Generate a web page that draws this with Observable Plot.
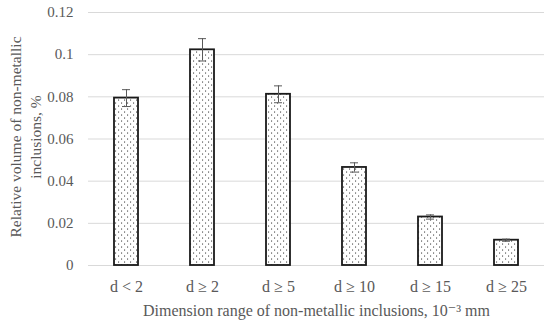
<!DOCTYPE html>
<html><head><meta charset="utf-8">
<script src="https://cdn.jsdelivr.net/npm/d3@7"></script>
<script src="https://cdn.jsdelivr.net/npm/@observablehq/plot@0.6"></script>
<style>
html,body{margin:0;padding:0;background:#fff;}
</style>
</head><body>
<div id="chart"></div>
<script>
const categories = ["d < 2", "d ≥ 2", "d ≥ 5", "d ≥ 10", "d ≥ 15", "d ≥ 25"];
const values = [0.0794, 0.1023, 0.0812, 0.0465, 0.0230, 0.0120];
const errors = [0.0040, 0.0053, 0.0040, 0.0022, 0.0010, 0.0005];
const yTicks = [0, 0.02, 0.04, 0.06, 0.08, 0.1, 0.12];
const yLabel = "Relative volume of non-metallic\ninclusions, %";
const xLabel = "Dimension range of non-metallic inclusions, 10\u207B\u00B3 mm";

const data = categories.map((c, i) => ({cat: c, v: values[i], e: errors[i]}));
const font = "'Liberation Serif', 'DejaVu Serif', serif";

const chart = Plot.plot({
  width: 550,
  height: 323,
  marginLeft: 88,
  marginRight: 6,
  marginTop: 12,
  marginBottom: 58,
  style: {fontFamily: font, fontSize: "15px", color: "#595959", background: "#fff"},
  x: {domain: categories, paddingInner: 0.68, paddingOuter: 0.34},
  y: {domain: [0, 0.12]},
  marks: [
    Plot.gridY(yTicks, {stroke: "#d9d9d9", strokeOpacity: 1, strokeWidth: 1}),
    Plot.axisY(yTicks, {tickSize: 0, tickPadding: 15, tickFormat: d => String(+d.toFixed(2)), label: null, fontSize: 15, fill: "#595959"}),
    Plot.axisX({tickSize: 0, tickPadding: 15, label: xLabel, labelAnchor: "center", labelOffset: 50, fontSize: 16, fill: "#595959"}),
    Plot.barY(data, {x: "cat", y: "v", fill: "url(#dots)", stroke: "#1a1a1a", strokeWidth: 1.8}),
    Plot.ruleX(data, {x: "cat", y1: d => d.v - d.e, y2: d => d.v + d.e, stroke: "#595959", strokeWidth: 1}),
    Plot.tickY(data, {x: "cat", y: d => d.v + d.e, stroke: "#595959", strokeWidth: 1, insetLeft: 8, insetRight: 8}),
    Plot.tickY(data, {x: "cat", y: d => d.v - d.e, stroke: "#595959", strokeWidth: 1, insetLeft: 8, insetRight: 8}),
    Plot.text([yLabel], {frameAnchor: "left", textAnchor: "middle", lineAnchor: "middle", rotate: -90, dx: -64, dy: -2, text: d => d, fontSize: 15.5, fill: "#595959", lineHeight: 1.3})
  ]
});

// dotted fill pattern
const ns = "http://www.w3.org/2000/svg";
const defs = document.createElementNS(ns, "defs");
const pat = document.createElementNS(ns, "pattern");
pat.setAttribute("id", "dots");
pat.setAttribute("patternUnits", "userSpaceOnUse");
pat.setAttribute("width", "6");
pat.setAttribute("height", "6");
const bg = document.createElementNS(ns, "rect");
bg.setAttribute("width", "6"); bg.setAttribute("height", "6"); bg.setAttribute("fill", "#fff");
pat.appendChild(bg);
[[1,0.5],[4,3.5]].forEach(([x,y]) => {
  const r = document.createElementNS(ns, "rect");
  r.setAttribute("x", x); r.setAttribute("y", y);
  r.setAttribute("width", "1.1"); r.setAttribute("height", "1.1");
  r.setAttribute("fill", "#444");
  pat.appendChild(r);
});
defs.appendChild(pat);
chart.insertBefore(defs, chart.firstChild);

document.getElementById("chart").appendChild(chart);
</script>
</body></html>
